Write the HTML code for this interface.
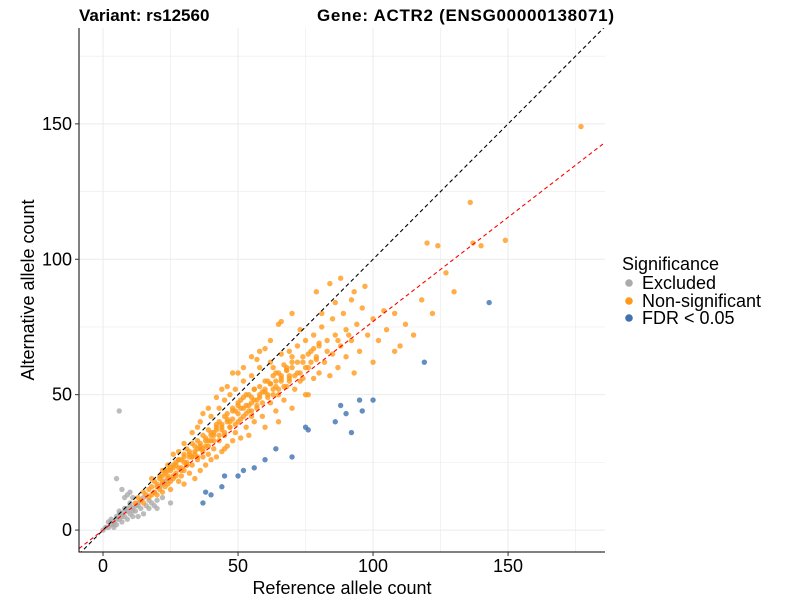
<!DOCTYPE html>
<html><head><meta charset="utf-8"><style>
html,body{margin:0;padding:0;background:#fff;}
svg{display:block;font-family:"Liberation Sans",Arial,sans-serif;}
</style></head><body>
<svg id="chart" width="800" height="600"></svg>
<script>
// ---- data ----
const xTicks = [0, 50, 100, 150];
const yTicks = [0, 50, 100, 150];
const minorTicks = [25, 75, 125, 175];
const redSlope = 0.77;
const orangeX = [12,13,14,15,15,16,17,17,18,18,19,19,20,20,21,21,22,22,23,23,24,24,25,25,26,26,27,27,28,28,29,29,30,30,30,31,31,32,32,33,33,34,34,35,35,36,36,37,37,38,38,39,39,40,40,40,41,41,42,42,43,43,44,44,45,45,46,46,47,47,48,48,49,49,50,50,51,51,52,52,53,53,54,54,55,55,56,56,57,58,58,59,60,60,61,62,62,63,64,64,65,66,66,67,68,68,69,70,70,71,72,72,73,74,75,75,76,77,78,78,79,80,80,81,82,83,84,85,85,86,87,88,89,90,90,92,93,94,95,96,98,100,100,102,105,108,110,112,115,118,120,124,127,130,136,137,149,177,84,88,93,66,70,60,55,48,42,37,79,92,97,74,104,122,140,108,65,76,28,26,22,18,24,35,44,52,58,62,45,55,30,33,36,39,46,50,57,63,69,73,81,86,65];
const orangeY = [10,12,11,14,10,13,15,12,16,13,14,18,17,13,19,15,18,14,21,16,20,17,22,15,24,19,21,25,18,23,26,20,28,22,17,25,30,21,27,24,32,19,28,26,33,22,30,27,35,24,31,28,37,26,33,42,30,36,27,39,33,45,29,37,35,48,31,41,38,50,33,44,36,52,40,46,34,48,42,55,38,50,44,35,47,57,40,52,45,49,60,42,51,38,55,47,62,52,44,58,50,56,65,48,60,53,57,45,64,52,68,58,55,62,50,70,60,66,56,72,63,58,68,75,62,70,57,65,78,72,60,68,80,64,74,70,58,76,66,82,72,62,78,70,74,80,68,76,72,85,106,105,95,88,121,106,107,149,91,93,88,77,80,67,64,58,49,43,88,85,90,56,81,80,105,66,40,50,29,28,22,19,24,38,52,60,66,70,30,42,32,36,40,45,53,58,63,60,66,74,80,84,76];
const orange2X = [20,21,22,23,24,25,26,27,28,29,30,31,32,33,34,35,36,37,38,39,40,41,42,43,44,45,46,47,48,49,50,51,52,53,54,55,56,57,58,59,60,61,62,63,64,65,66,67,68,69,70,22,24,26,28,30,32,34,36,38,40,42,44,46,48,50,52,54,56,58,60,62,64,66,68,70,72,74,76,78,80,25,27,29,31,33,35,37,39,41,43,45,47,49,51,53,55,57,59,61,63,65,67,69,71,73,75,77,79,83,87,91];
const orange2Y = [16,20,17,22,19,23,20,24,26,22,27,24,29,27,31,30,32,29,34,33,36,35,38,40,39,42,43,40,45,44,47,45,49,46,50,49,52,48,53,51,55,50,54,57,53,58,55,61,59,56,62,20,22,23,26,25,28,29,31,33,35,37,38,40,41,43,45,46,48,50,52,54,55,57,59,60,62,64,65,67,69,18,20,23,24,27,27,30,31,33,35,36,38,39,41,43,44,46,47,49,50,52,53,55,57,58,60,62,64,66,70,72];
const greyX = [0,1,2,2,3,3,4,4,5,5,6,6,7,7,8,8,9,9,10,10,11,11,12,13,14,15,16,17,18,19,20,22,25,8,10,11,6,5,7,9,13,20,3,5,7,9,11,13,15,17,19,21,23,4,6,8,10,12,14];
const greyY = [0,1,1,3,2,4,3,1,5,2,4,7,3,6,5,8,4,7,6,9,5,8,7,5,8,6,9,8,10,9,11,12,10,12,14,12,44,19,15,13,9,8,3,4,5,8,7,10,12,11,14,16,18,2,6,7,10,9,11];
const blueX = [143,119,100,95,90,96,88,86,92,70,75,76,60,56,52,44,50,40,38,37,45,64];
const blueY = [84,62,48,48,43,44,46,40,36,27,38,37,26,23,22,16,20,13,14,10,20,30];

// ---- scales ----
const L=79,R=605,T=28,B=552;
const xMin=-8.9,xMax=185.9,yMin=-8.1,yMax=185.4;
const sx=v=>L+(v-xMin)/(xMax-xMin)*(R-L);
const sy=v=>B-(v-yMin)/(yMax-yMin)*(B-T);
const NS="http://www.w3.org/2000/svg";
const svg=document.getElementById('chart');
function mk(tag,attrs,parent){const e=document.createElementNS(NS,tag);for(const k in attrs)e.setAttribute(k,attrs[k]);(parent||svg).appendChild(e);return e;}

// grid
const grid=mk('g',{});


minorTicks.concat(xTicks).forEach(v=>{
  if(sx(v)<=R) mk('line',{x1:sx(v),x2:sx(v),y1:T,y2:B,stroke:'#ebebeb','stroke-width':minorTicks.includes(v)?0.6:1},grid);
  if(sy(v)>=T) mk('line',{x1:L,x2:R,y1:sy(v),y2:sy(v),stroke:'#ebebeb','stroke-width':minorTicks.includes(v)?0.6:1},grid);
});

// points
function drawPts(xs,ys,color,name){
  const g=mk('g',{});
  
  
  xs.forEach((x,i)=>{
    const c=mk('circle',{cx:sx(x),cy:sy(ys[i]),r:2.7,fill:color,'fill-opacity':0.8},g);
    
    
  });
}
drawPts(greyX,greyY,'#ababab','excluded-points');
drawPts(orangeX,orangeY,'#ff9a1a','non-significant-points');
drawPts(orange2X,orange2Y,'#ff9a1a','non-significant-points-dense');
drawPts(blueX,blueY,'#3f72b0','fdr-points');

// reference lines
const clip=mk('clipPath',{id:'pc'});mk('rect',{x:L,y:T,width:R-L,height:B-T},clip);
const dl=mk('line',{x1:sx(xMin),y1:sy(xMin),x2:sx(xMax),y2:sy(xMax),stroke:'#000','stroke-width':1.1,'stroke-dasharray':'4,3','clip-path':'url(#pc)'});


const rl=mk('line',{x1:sx(xMin),y1:sy(xMin*redSlope),x2:sx(xMax),y2:sy(xMax*redSlope),stroke:'#ff0000','stroke-width':1.1,'stroke-dasharray':'4,3','clip-path':'url(#pc)'});



// axes
const ax=mk('path',{d:`M${L},${T}V${B}H${R}`,stroke:'#000','stroke-width':1,fill:'none'});


xTicks.forEach(v=>{
  mk('line',{x1:sx(v),x2:sx(v),y1:B,y2:B+4,stroke:'#333'});
  const t=mk('text',{x:sx(v),y:B+20,'text-anchor':'middle','font-size':18,fill:'#000'});t.textContent=v;
  
  
});
yTicks.forEach(v=>{
  mk('line',{x1:L-4,x2:L,y1:sy(v),y2:sy(v),stroke:'#333'});
  const t=mk('text',{x:L-7,y:sy(v)+6,'text-anchor':'end','font-size':18,fill:'#000'});t.textContent=v;
  
  
});
</script>
<div style="position:absolute;left:0;top:0;width:800px;height:600px;pointer-events:none">
<svg width="800" height="600" style="font-family:'Liberation Sans',Arial,sans-serif">
<text x="79" y="21" font-size="17" font-weight="bold">Variant: rs12560</text>
<text x="317" y="21" font-size="17" font-weight="bold" textLength="297">Gene: ACTR2 (ENSG00000138071)</text>
<text x="342" y="594" font-size="18" text-anchor="middle">Reference allele count</text>
<text transform="translate(34,290) rotate(-90)" font-size="18" text-anchor="middle">Alternative allele count</text>
<g>
<text x="622" y="270" font-size="18">Significance</text>
<circle cx="629" cy="283" r="3.8" fill="#ababab"/>
<text x="642" y="289" font-size="18">Excluded</text>
<circle cx="629" cy="301" r="3.8" fill="#ff9a1a"/>
<text x="642" y="307" font-size="18">Non-significant</text>
<circle cx="629" cy="318" r="3.8" fill="#3f72b0"/>
<text x="642" y="324" font-size="18">FDR &lt; 0.05</text>
</g>
</svg></div>
</body></html>
